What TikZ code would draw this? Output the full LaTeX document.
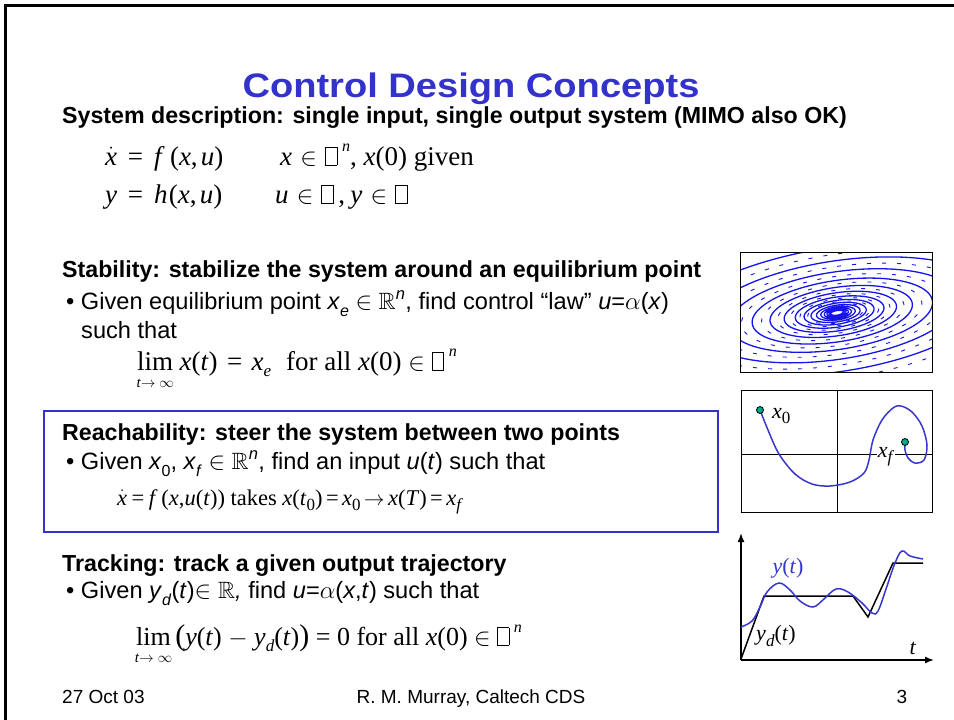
\documentclass[tikz,border=0pt]{standalone}
\usepackage{fontspec}
\usepackage{amssymb}
\setmainfont{Liberation Sans}
\newfontfamily\tms{Liberation Serif}
\usetikzlibrary{arrows.meta}
\definecolor{ttlblue}{RGB}{51,51,204}
\definecolor{crvblue}{RGB}{55,55,205}
\definecolor{sprblue}{RGB}{20,20,235}
\definecolor{dotgreen}{RGB}{0,168,140}
\newcommand\sbs[1]{\raisebox{-0.3em}{\fontsize{16}{16}\selectfont #1}}
\newcommand\esb[1]{\raisebox{-0.25em}{\fontsize{17}{17}\selectfont #1}}
\newcommand\esp[1]{\hspace{0.18em}\raisebox{0.5em}{\fontsize{16}{16}\selectfont\itshape #1}}
\newcommand\nbx{{\setlength\fboxsep{0pt}\setlength\fboxrule{0.5pt}\fbox{\rule{0pt}{0.66em}\hspace{0.42em}}}}
\newcommand\iv[1]{\textit{#1}}
\newcommand\Rn{$\mathbb{R}$\textsuperscript{\textit{n}}}
\begin{document}
\begin{tikzpicture}[x=1pt,y=-1pt,
 hd/.style={anchor=base west,inner sep=0,font=\fontsize{23.2}{28}\selectfont\bfseries},
 txt/.style={anchor=base west,inner sep=0,font=\fontsize{23.6}{28}\selectfont},
 eqn/.style={anchor=base west,inner sep=0,font=\fontsize{27}{30}\selectfont\tms},
 small/.style={inner sep=0,font=\fontsize{15}{16}\selectfont\tms},
 foot/.style={anchor=base,inner sep=0,font=\fontsize{19}{22}\selectfont},
 crv/.style={draw=crvblue,line width=1.5pt},
 axis/.style={draw=black,line width=1.5pt,-{Latex[length=9pt,width=7pt]}},
 dot/.style={circle,draw=black,fill=dotgreen,inner sep=0,minimum size=7pt,line width=0.8pt},
 lbl/.style={inner sep=0,font=\fontsize{22}{24}\selectfont\tms},
 panel/.style={draw=black,line width=1pt,anchor=north west,inner sep=0}]
\useasboundingbox (0,0) rectangle (954,720);
\draw[line width=2.5pt] (5.5,720) -- (5.5,5.5) -- (954,5.5);

% title and text
\node[anchor=base,inner sep=0,font=\fontsize{34}{36}\selectfont\bfseries,text=ttlblue] (title) at (471,97) {\scalebox{1.12}[1]{Control Design Concepts}};
\node[hd] (sys) at (62,123) {System description: single input, single output system (MIMO also OK)};

\node[eqn] (e1a) at (105,165) {$\dot{\mbox{\itshape x}}$\hspace{0.4em}=\hspace{0.4em}\iv{f}\hspace{0.2em}(\iv{x},\hspace{0.12em}\iv{u})};
\node[eqn] (e1b) at (280,165) {\iv{x}\hspace{0.3em}$\in$\hspace{0.3em}\nbx\esp{n}, \iv{x}(0) given};
\node[eqn] (e2a) at (105,203) {\iv{y}\hspace{0.4em}=\hspace{0.4em}\iv{h}\hspace{0.05em}(\iv{x},\hspace{0.12em}\iv{u})};
\node[eqn] (e2b) at (275,203) {\iv{u}\hspace{0.3em}$\in$\hspace{0.3em}\nbx\,,\hspace{0.2em}\iv{y}\hspace{0.3em}$\in$\hspace{0.3em}\nbx};

\node[hd] (stab) at (62,277) {Stability: stabilize the system around an equilibrium point};
\node[txt] (b1) at (66,309) {\textbullet\ Given equilibrium point \textit{x}\sbs{\textit{e}} $\in$ \Rn, find control “law” \textit{u}=$\alpha$(\textit{x})};
\node[txt] (b1b) at (81,338) {such that};
\node[eqn] (lim1) at (137,370) {lim};
\node[eqn] (lim1r) at ([xshift=6pt]lim1.base east) {\iv{x}(\iv{t})\hspace{0.35em}=\hspace{0.35em}\iv{x}\esb{\iv{e}}\hspace{0.55em}for all \iv{x}(0)\hspace{0.25em}$\in$\hspace{0.25em}\nbx\esp{n}};
\node[small,anchor=north] (lim1t) at ([yshift=-9pt]lim1.south) {\iv{t}$\to\infty$};

\node[draw=ttlblue,line width=2pt,minimum width=674pt,minimum height=121pt,anchor=north west,inner sep=0] (rbox) at (43,410) {};
\node[hd] (reach) at (62,440) {Reachability: steer the system between two points};
\node[txt] (b2) at (66,469) {\textbullet\ Given \textit{x}\sbs{0}, \textit{x}\sbs{\textit{f}} $\in$ \Rn, find an input \textit{u}(\textit{t}) such that};
\node[eqn,font=\fontsize{22.5}{26}\selectfont\tms] (req) at (117,505) {$\dot{\mbox{\itshape x}}$\hspace{0.2em}=\hspace{0.2em}\iv{f}\,(\iv{x},\iv{u}(\iv{t})) takes \iv{x}(\iv{t}\esb{0})\hspace{0.15em}=\hspace{0.15em}\iv{x}\esb{0}\hspace{0.15em}$\rightarrow$\hspace{0.15em}\iv{x}(\iv{T})\hspace{0.15em}=\hspace{0.15em}\iv{x}\esb{\iv{f}}};

\node[hd] (track) at (62,571) {Tracking: track a given output trajectory};
\node[txt] (b3) at (66,598) {\textbullet\ Given \textit{y}\sbs{\textit{d}}(\textit{t})$\in\mathbb{R}$\textit{,} find \textit{u}=$\alpha$(\textit{x},\textit{t}) such that};
\node[eqn,font=\fontsize{26}{30}\selectfont\tms] (lim2) at (136,645) {lim};
\node[eqn,font=\fontsize{26}{30}\selectfont\tms] (lim2r) at ([xshift=4pt]lim2.base east) {{\fontsize{30}{30}\selectfont(}\iv{y}(\iv{t}) $-$ \iv{y}\esb{\iv{d}}(\iv{t}){\fontsize{30}{30}\selectfont)} = 0 for all \iv{x}(0) $\in$ \nbx\esp{n}};
\node[small,anchor=north] (lim2t) at ([yshift=-9pt]lim2.south) {\iv{t}$\to\infty$};

\node[foot,anchor=base west] (date) at (62,703) {27 Oct 03};
\node[foot] (auth) at (471,703) {R. M. Murray, Caltech CDS};
\node[foot] (page) at (902,703) {3};

% figure 1: phase portrait
\begin{scope}
\clip (740,252) rectangle (932,372);
\begin{scope}[shift={(837,313)},rotate=8]
\draw[sprblue,line width=1.3pt] plot[domain=0:94.25,samples=1400,variable=\t] ({5.6*exp(0.0377*\t)*cos(deg(\t))},{2*exp(0.0377*\t)*sin(deg(\t))});
\draw[sprblue,line width=0.9pt,dash pattern=on 4pt off 11pt] plot[domain=40:94.25,samples=900,variable=\t] ({5.6*exp(0.0377*\t)*cos(deg(\t)+180)},{2*exp(0.0377*\t)*sin(deg(\t)+180)});
\end{scope}
\end{scope}
\node[panel,minimum width=192pt,minimum height=120pt] (ph) at (740,252) {};

% figure 2: reachability
\node[panel,minimum width=191pt,minimum height=122pt] (reg) at (741,390) {};
\draw[black,line width=1pt] (837,390) -- (837,512);
\draw[black,line width=1pt] (741,454) -- (932,454);
\draw[crv] plot[smooth,tension=0.55] coordinates {(760,410) (768,430) (779,454) (795,474) (812,484) (830,486) (850,482) (864,473) (869,460) (873,440) (882,420) (893,408) (901,406) (912,412) (922,426) (927,445) (924,460) (915,463) (908,458) (905,450) (905,442)};
\node[dot] (x0) at (760,410) {};
\node[dot] (xf) at (905,442) {};
\node[lbl,anchor=west] (x0l) at (772,416) {\iv{x}\esb{0}};
\node[lbl,fill=white,inner sep=0.5pt] (xfl) at (886,457) {\iv{x}\esb{\iv{f}}};

% figure 3: tracking
\coordinate (o) at (741,660);
\coordinate (ytop) at (741,533);
\coordinate (xend) at (934,660);
\draw[axis] (o) -- (ytop);
\draw[axis] (o) -- (xend);
\draw[black,line width=1.5pt] (741,659) -- (764,596) -- (853,596) -- (868,617) -- (893,563) -- (923,563);
\draw[crv] plot[smooth,tension=0.6] coordinates {(741,627) (752,621) (760,607) (767,592) (779,583) (790,590) (800,601) (813,607) (824,599) (836,589) (848,592) (862,603) (872,613) (878,611) (886,589) (895,563) (902,551) (910,556) (923,559)};
\node[lbl,text=crvblue] (ylb) at (788,568) {\iv{y}(\iv{t})};
\node[lbl] (ydl) at (776,636) {\iv{y}\esb{\iv{d}}(\iv{t})};
\node[lbl] (tl) at (913,648) {\iv{t}};
\end{tikzpicture}
\end{document}
